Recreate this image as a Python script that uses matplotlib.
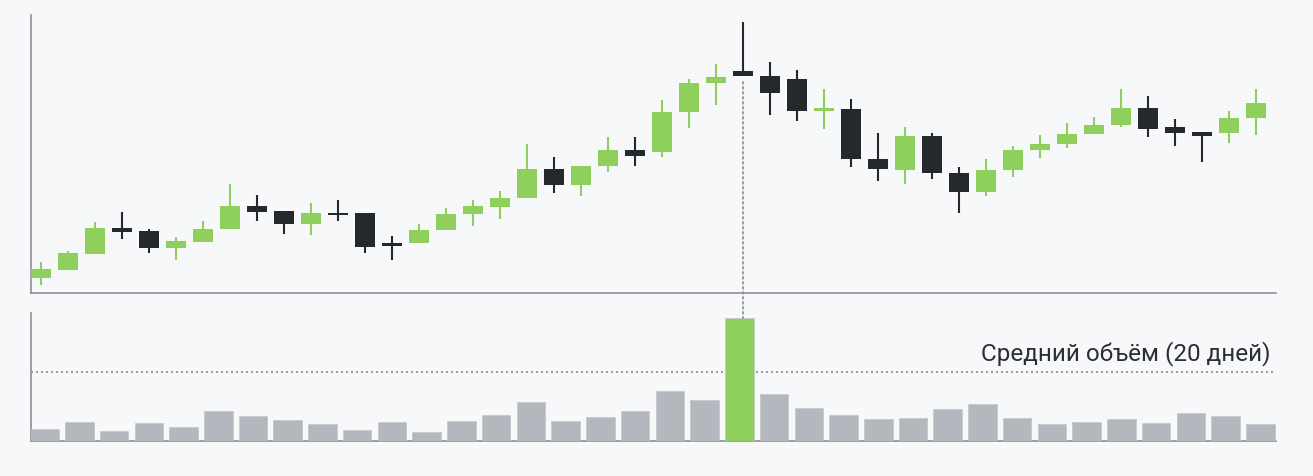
import matplotlib
matplotlib.use('Agg')
import matplotlib.pyplot as plt
from matplotlib import transforms
from matplotlib.patches import ConnectionPatch

# OHLC for 46 candles (arbitrary price units)
opens = [15.3, 23.0, 39.0, 65.0, 61.7, 45.0, 51.3, 64.0, 87.0, 82.0,
         69.3, 80.3, 79.7, 50.0, 50.0, 63.0, 79.3, 85.7, 94.7, 124.0,
         108.3, 126.7, 143.0, 141.3, 180.7, 210.3, 221.7, 216.7, 213.7, 182.0,
         184.3, 134.0, 123.0, 157.3, 120.0, 101.3, 123.0, 142.7, 149.3, 158.7,
         167.7, 185.3, 166.0, 161.3, 160.3, 174.7]
highs = [31.0, 42.3, 71.3, 81.3, 64.3, 56.3, 72.3, 108.7, 98.0, 82.0,
         90.3, 93.0, 79.7, 56.7, 68.7, 85.0, 93.3, 102.3, 149.0, 136.0,
         127.3, 156.3, 155.7, 193.0, 213.7, 228.7, 271.0, 230.7, 223.0, 203.7,
         194.3, 160.3, 166.3, 160.3, 125.7, 134.0, 147.3, 158.3, 169.7, 176.3,
         203.7, 197.0, 174.0, 161.3, 182.0, 203.7]
lows = [8.0, 23.0, 39.0, 53.7, 39.7, 33.0, 51.3, 64.0, 72.3, 58.7,
        57.7, 71.7, 39.7, 33.0, 50.0, 63.0, 67.3, 74.3, 94.7, 100.3,
        97.0, 121.0, 127.0, 135.7, 165.0, 187.7, 216.7, 178.3, 172.0, 164.3,
        125.7, 112.0, 109.0, 113.7, 79.7, 97.0, 116.3, 135.0, 144.7, 158.7,
        166.3, 156.0, 147.3, 131.3, 149.7, 157.7]
closes = [23.7, 39.7, 65.0, 61.0, 44.7, 51.7, 64.3, 87.0, 81.0, 69.0,
          80.0, 78.0, 46.3, 46.7, 63.3, 79.3, 86.7, 95.0, 123.7, 108.3,
          127.3, 143.0, 137.3, 180.7, 210.3, 216.3, 216.7, 199.7, 182.0, 185.3,
          133.7, 123.7, 157.3, 119.7, 101.3, 123.3, 142.7, 149.3, 159.0, 167.7,
          185.3, 164.0, 159.7, 157.3, 175.3, 189.7]

# volume bars (36 days)
volumes = [11.7, 18.7, 10.3, 17.7, 14.0, 30.0, 25.0, 21.0, 16.7, 11.0,
           18.7, 8.7, 20.0, 25.7, 39.0, 19.7, 23.7, 30.3, 50.3, 41.0,
           122.7, 46.7, 32.7, 26.3, 22.0, 23.0, 31.7, 37.0, 23.0, 16.7,
           18.7, 22.3, 17.7, 28.0, 24.7, 16.7]
avg_volume = 69.0
spike_candle = 26
spike_bar = 20
avg_label = 'Средний объём (20 дней)'

bg = '#f7f8f9'
green = '#8fd05d'
dark = '#25282d'
grey_bar = '#b4b7bd'
axis_col = '#8c8f94'

W, H = 1313, 476
fig = plt.figure(figsize=(W / 100, H / 100), dpi=100, facecolor=bg)
ax = fig.add_axes([31 / W, 1 - 293 / H, (1276 - 31) / W, (293 - 15) / H])
vax = fig.add_axes([31 / W, 1 - 441 / H, (1276 - 31) / W, (441 - 313) / H])

for a in (ax, vax):
    a.set_facecolor(bg)
    a.spines['top'].set_visible(False)
    a.spines['right'].set_visible(False)
    for s in ('left', 'bottom'):
        a.spines[s].set_color(axis_col)
        a.spines[s].set_linewidth(1.2)
    a.set_xticks([])
    a.set_yticks([])

# candles
xs = list(range(len(opens)))
cols = [green if c >= o else dark for o, c in zip(opens, closes)]
ax.vlines(xs, lows, highs, colors=cols, linewidth=1.5, zorder=2)
bottoms = [min(o, c) for o, c in zip(opens, closes)]
heights = [max(abs(c - o), 2.5) for o, c in zip(opens, closes)]
ax.bar(xs, heights, bottom=bottoms, width=0.75, color=cols, linewidth=0, zorder=3)
ax.set_xlim(-0.37, 45.74)
ax.set_ylim(0, 278)

# volume
vx = list(range(len(volumes)))
vcols = [green if i == spike_bar else grey_bar for i in vx]
vax.bar(vx, volumes, width=0.82, color=vcols, edgecolor='#c6c8cc', linewidth=0.6, zorder=3)
vax.axhline(avg_volume, color='#8a8d91', linewidth=1.2, linestyle=(0, (1.2, 1.8)), zorder=2)
vax.text(35.3, avg_volume + 6, avg_label, ha='right', va='bottom', fontsize=17.5,
         color='#2b2e33', family=['Roboto', 'DejaVu Sans'])
vax.set_xlim(-0.391, 35.45)
vax.set_ylim(0, 128)

# dotted link from the spike candle down to its volume bar
mixed = transforms.blended_transform_factory(ax.transData, vax.transData)
con = ConnectionPatch(xyA=(spike_candle, lows[spike_candle]), coordsA=ax.transData,
                      xyB=(spike_candle, volumes[spike_bar]), coordsB=mixed,
                      color='#8a8d91', linewidth=1.2, linestyle=(0, (1.2, 1.8)),
                      shrinkA=4, shrinkB=0, zorder=1)
fig.add_artist(con)

fig.savefig('out.png', dpi=100, facecolor=bg)
